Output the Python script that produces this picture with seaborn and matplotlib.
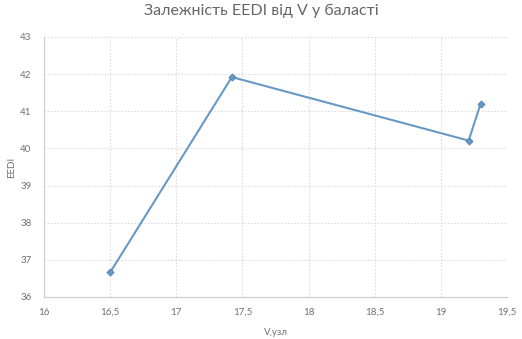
import matplotlib
matplotlib.use("Agg")
import matplotlib.pyplot as plt
import seaborn as sns
import pandas as pd
from matplotlib.ticker import FuncFormatter, MultipleLocator

speed = [16.5, 17.42, 19.21, 19.3]
eedi = [36.66, 41.92, 40.21, 41.2]
x_label = "V,узл"
y_label = "EEDI"
title = "Залежність EEDI від V у баласті"

df = pd.DataFrame({"V": speed, "EEDI": eedi})

sns.set_style("white")
plt.rcParams["font.family"] = ["Lato", "DejaVu Sans"]

fig = plt.figure(figsize=(5.22, 3.39), dpi=100)
ax = fig.add_axes([0.0843, 0.124, 0.8870, 0.767])

sns.lineplot(data=df, x="V", y="EEDI", ax=ax, sort=False, color="#6799c6",
             linewidth=1.5, marker="D", markersize=3.5,
             markeredgecolor="#5584b3", markerfacecolor="#6799c6")

ax.set_xlim(16, 19.5)
ax.set_ylim(36, 43)
ax.xaxis.set_major_locator(MultipleLocator(0.5))
ax.yaxis.set_major_locator(MultipleLocator(1))
fmt = FuncFormatter(lambda v, p: ("%g" % v).replace(".", ","))
ax.xaxis.set_major_formatter(fmt)
ax.yaxis.set_major_formatter(fmt)

ax.grid(True, color="#dcdcdc", linestyle=(0, (1.5, 1.5)), linewidth=0.8)
ax.set_axisbelow(True)
for s in ["top", "right"]:
    ax.spines[s].set_visible(False)
for s in ["left", "bottom"]:
    ax.spines[s].set_color("#cccccc")
    ax.spines[s].set_linewidth(0.8)

ax.tick_params(axis="both", length=0, labelsize=7, labelcolor="#707070")
ax.tick_params(axis="x", pad=8)
ax.tick_params(axis="y", pad=9)

ax.set_xlabel(x_label, fontsize=7, color="#707070", labelpad=8)
ax.set_ylabel(y_label, fontsize=7, color="#707070", labelpad=3)
fig.suptitle(title, fontsize=11.5, color="#666666", y=0.99)

fig.savefig("out.png", dpi=100)
